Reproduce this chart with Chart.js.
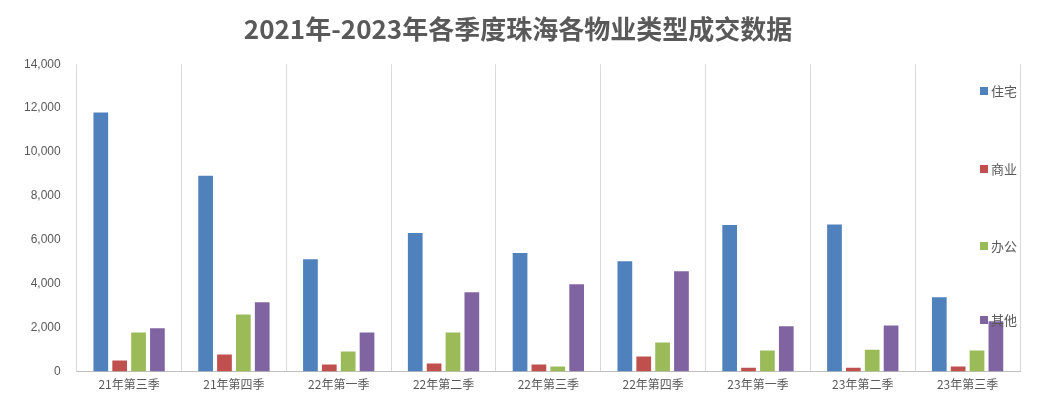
<!DOCTYPE html>
<html><head><meta charset="utf-8">
<script src="https://cdn.jsdelivr.net/npm/chart.js@4/dist/chart.umd.min.js"></script>
<style>html,body{margin:0;padding:0;background:#fff}#w{width:1041px;height:411px}</style>
</head><body><div id="w"><canvas id="c"></canvas></div>
<script>
const categories=["21年第三季","21年第四季","22年第一季","22年第二季","22年第三季","22年第四季","23年第一季","23年第二季","23年第三季"];
const residential=[11800,8920,5120,6310,5400,5030,6680,6700,3390];
const commercial=[500,780,320,370,320,690,180,180,230];
const office=[1780,2600,910,1780,230,1330,960,1000,960];
const other=[1970,3160,1780,3610,3980,4570,2060,2100,2290];
const seriesNames=["住宅","商业","办公","其他"];
const colors=["#4F81BD","#C0504D","#9BBB59","#8064A2"];
const legendPlugin={id:'lg',afterDraw(ch){const x=ch.ctx;x.save();x.font='13px "Noto Sans CJK SC"';x.textBaseline='middle';
const ys=[91,169,246,320];ch.data.datasets.forEach((d,i)=>{x.fillStyle=d.backgroundColor;x.fillRect(980,ys[i]-4,8,8);x.fillStyle='#595959';x.fillText(d.label,991,ys[i]);});x.restore();}};
new Chart(document.getElementById('c'),{type:'bar',
data:{labels:categories,datasets:[residential,commercial,office,other].map((d,i)=>({label:seriesNames[i],data:d,backgroundColor:colors[i]}))},
options:{responsive:true,maintainAspectRatio:false,animation:false,
layout:{padding:{left:16,right:21,top:0,bottom:13}},
categoryPercentage:0.72,barPercentage:0.78,
plugins:{legend:{display:false},tooltip:{enabled:false},
title:{display:true,text:'2021年-2023年各季度珠海各物业类型成交数据',color:'#595959',font:{size:26,weight:'bold',family:'"Noto Sans CJK SC"'},padding:{top:14,bottom:19}}},
scales:{x:{grid:{display:true,offset:true,color:'#D9D9D9',drawTicks:false},border:{color:'#BFBFBF'},ticks:{color:'#595959',font:{size:12,family:'"Noto Sans CJK SC"'},padding:6}},
y:{min:0,max:14000,ticks:{stepSize:2000,color:'#595959',font:{size:12},padding:8,callback:v=>v.toLocaleString('en-US')},grid:{display:false},border:{display:false}}}},
plugins:[legendPlugin]});
</script></body></html>
